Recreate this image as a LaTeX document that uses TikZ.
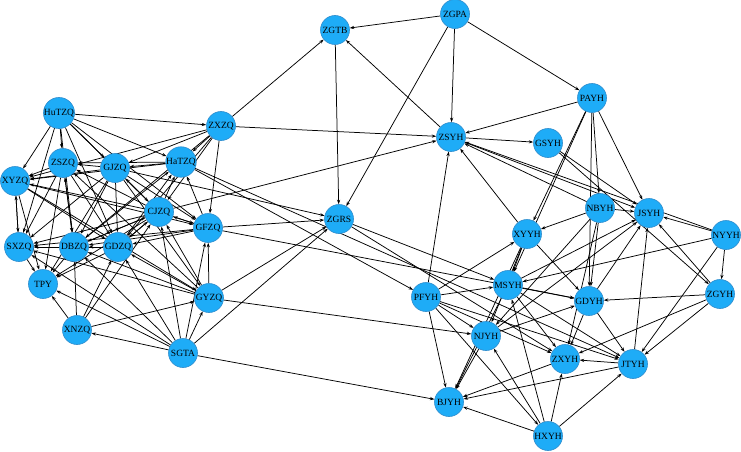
\documentclass[tikz,border=0pt]{standalone}
\usepackage{fontspec}
\setmainfont{Liberation Serif}
\usetikzlibrary{arrows.meta}
\pgfdeclarelayer{bg}
\pgfsetlayers{bg,main}
\definecolor{nodefill}{RGB}{30,172,247}
\definecolor{nodeline}{RGB}{45,140,205}
\tikzset{
  vtx/.style={circle,fill=nodefill,draw=nodeline,line width=0.6pt,minimum size=29pt,inner sep=0pt,font=\fontsize{9.5}{10}\selectfont},
  edge/.style={draw=black,line width=0.75pt,-{Stealth[length=4.5pt,width=3.2pt]}}
}
\begin{document}
\begin{tikzpicture}[x=1pt,y=-1pt]
\useasboundingbox (0,0) rectangle (741,452);
\foreach \n/\x/\y in {ZGPA/455/14, ZGTB/335/30, PAYH/592/98, HuTZQ/59/113, ZXZQ/221/126,
  ZSYH/451/137, GSYH/548/143, ZSZQ/63/163, GJZQ/115/168, HaTZQ/181/162, XYZQ/15/181,
  CJZQ/159/212, NBYH/600/208, JSYH/649/213, ZGRS/339/219, GFZQ/208/228, XYYH/527/234,
  NYYH/726/235, SXZQ/19/247, DBZQ/74/247, GDZQ/118/247, TPY/43/284, MSYH/508/285,
  ZGYH/720/294, GYZQ/209/298, PFYH/426/297, GDYH/589/301, XNZQ/77/330, NJYH/486/336,
  SGTA/183/353, ZXYH/565/359, JTYH/633/364, BJYH/449/402, HXYH/548/436}
  {\node[vtx] (\n) at (\x,\y) {\n};}
\begin{pgfonlayer}{bg}
\fill[white] (0,0) rectangle (741,452);
\foreach \a/\b in {
  ZGPA/ZGTB, ZGPA/ZSYH, ZGPA/PAYH, ZGPA/ZGRS, ZXZQ/ZGTB, ZGTB/ZGRS, ZSYH/ZGTB, ZXZQ/ZSYH,
  PAYH/ZSYH, ZSYH/GSYH, CJZQ/ZSYH, PFYH/ZSYH, XYYH/ZSYH, NBYH/ZSYH, NYYH/ZSYH,
  ZSYH/JSYH, GSYH/JSYH, GSYH/ZGYH, ZGYH/JSYH, NYYH/JSYH, NYYH/ZGYH, NYYH/MSYH, NYYH/JTYH,
  PAYH/XYYH, PAYH/MSYH, PAYH/NBYH, PAYH/JSYH, PAYH/GDYH,
  NBYH/XYYH, NBYH/JSYH, NBYH/GDYH, NBYH/ZXYH, NBYH/NJYH,
  ZGYH/GDYH, ZGYH/ZXYH, ZGYH/JTYH,
  XYYH/MSYH, XYYH/NJYH, XYYH/BJYH, XYYH/GDYH,
  PFYH/XYYH, PFYH/MSYH, PFYH/ZXYH, PFYH/JTYH, PFYH/BJYH, PFYH/HXYH, PFYH/NJYH,
  MSYH/JSYH, MSYH/GDYH, MSYH/ZXYH, MSYH/JTYH, MSYH/BJYH,
  NJYH/GDYH, NJYH/JSYH, NJYH/BJYH,
  GDYH/ZXYH, GDYH/JTYH, GDYH/JSYH, JTYH/ZXYH, JTYH/BJYH, JTYH/JSYH, ZXYH/BJYH,
  HXYH/BJYH, HXYH/NJYH, HXYH/ZXYH, HXYH/JTYH, HXYH/MSYH,
  ZGRS/MSYH, ZGRS/ZXYH, GFZQ/ZGRS, GFZQ/GDYH,
  GJZQ/ZGRS, HaTZQ/JTYH, HaTZQ/PFYH,
  GYZQ/ZGRS, SGTA/ZGRS, GYZQ/NJYH, SGTA/BJYH, XNZQ/GYZQ,
  HuTZQ/XYZQ, HuTZQ/ZSZQ, HuTZQ/GJZQ, HuTZQ/HaTZQ, HuTZQ/CJZQ, HuTZQ/SXZQ, HuTZQ/DBZQ,
  HuTZQ/GDZQ, HuTZQ/GFZQ, HuTZQ/ZXZQ,
  ZXZQ/HaTZQ, ZXZQ/GJZQ, ZXZQ/XYZQ, ZXZQ/CJZQ, ZXZQ/GDZQ, ZXZQ/DBZQ, ZXZQ/GFZQ,
  ZSZQ/XYZQ, ZSZQ/SXZQ, ZSZQ/DBZQ, ZSZQ/TPY, ZSZQ/GDZQ,
  GJZQ/ZSZQ, GJZQ/XYZQ, GJZQ/SXZQ, GJZQ/DBZQ, GJZQ/GDZQ, GJZQ/TPY, GJZQ/GFZQ, GJZQ/GYZQ,
  HaTZQ/GJZQ, HaTZQ/ZSZQ, HaTZQ/XYZQ,
  CJZQ/HaTZQ, CJZQ/GJZQ, CJZQ/ZSZQ, CJZQ/XYZQ, CJZQ/DBZQ, CJZQ/GDZQ, CJZQ/TPY, CJZQ/SXZQ, CJZQ/GFZQ,
  GFZQ/CJZQ, GFZQ/GDZQ, GFZQ/DBZQ, GFZQ/HaTZQ, GFZQ/SXZQ,
  XYZQ/SXZQ, XYZQ/TPY, XYZQ/GDZQ, XYZQ/GFZQ, XYZQ/GYZQ,
  SXZQ/TPY, SXZQ/XYZQ,
  DBZQ/SXZQ, DBZQ/TPY, DBZQ/ZSZQ, DBZQ/HaTZQ, DBZQ/CJZQ,
  GDZQ/DBZQ, GDZQ/TPY, GDZQ/SXZQ, GDZQ/HaTZQ, GDZQ/CJZQ,
  XNZQ/TPY, XNZQ/DBZQ, XNZQ/GDZQ, XNZQ/CJZQ,
  GYZQ/GFZQ, GYZQ/CJZQ, GYZQ/GDZQ, GYZQ/DBZQ, GYZQ/SXZQ, GYZQ/ZSZQ,
  SGTA/TPY, SGTA/SXZQ, SGTA/GDZQ, SGTA/CJZQ, SGTA/GFZQ, SGTA/GYZQ, SGTA/XNZQ, SGTA/DBZQ}
  {\draw[edge] (\a) -- (\b);}
\end{pgfonlayer}
\end{tikzpicture}
\end{document}
